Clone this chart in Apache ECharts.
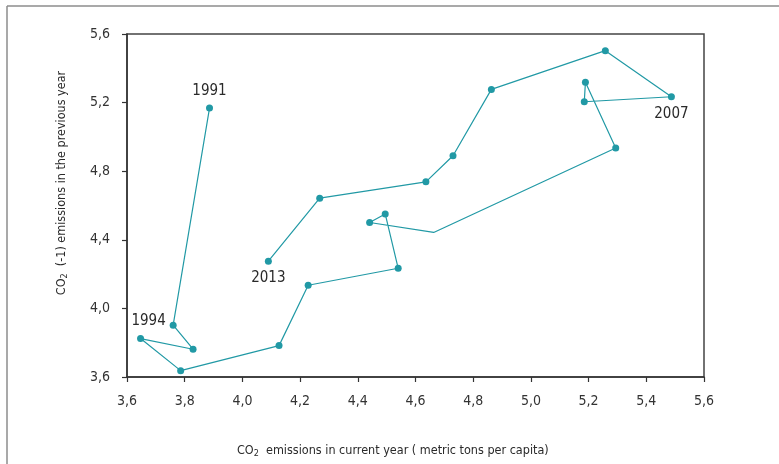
<!DOCTYPE html>
<html>
<head>
<meta charset="utf-8">
<style>
  html, body { margin: 0; padding: 0; background: #fff; }
  #chart { width: 779px; height: 464px; }
</style>
<script src="https://cdn.jsdelivr.net/npm/echarts@6/dist/echarts.min.js"></script>
</head>
<body>
<div id="chart"></div>
<script>
// CO2 emissions per capita: current year (x) against the previous year (y)
const currentYear = [3.886, 3.760, 3.829, 3.647, 3.786, 4.127, 4.228, 4.540, 4.495, 4.441,
                     4.663, 5.294, 5.189, 5.185, 5.487, 5.258, 4.863, 4.730, 4.636, 4.268, 4.090];
const previousYear = [5.168, 3.902, 3.762, 3.824, 3.637, 3.783, 4.135, 4.234, 4.551, 4.501,
                      4.443, 4.935, 5.318, 5.205, 5.234, 5.503, 5.277, 4.890, 4.738, 4.643, 4.275];
// vertices drawn without a dot
const noMarker = [10];
// year captions attached to vertices (index -> text, side)
const yearLabels = [
  { index: 0, text: '1991', side: 'top', offset: [0, 0] },
  { index: 3, text: '1994', side: 'top', offset: [8, 0] },
  { index: 14, text: '2007', side: 'bottom', offset: [0, 0] },
  { index: 20, text: '2013', side: 'bottom', offset: [0, 0] }
];
const xTicks = { min: 3.6, max: 5.6, step: 0.2 };
const yTicks = { min: 3.6, max: 5.6, step: 0.4 };

const FONT = "'Liberation Sans Narrow', 'DejaVu Sans Condensed', 'Roboto Condensed', sans-serif";
const TEAL = '#2199a5';

const seriesData = currentYear.map((x, i) => {
  const item = { value: [x, previousYear[i]] };
  if (noMarker.includes(i)) item.symbol = 'none';
  const lab = yearLabels.find(l => l.index === i);
  if (lab) {
    item.label = {
      show: true,
      formatter: lab.text,
      position: lab.side,
      distance: 6,
      offset: lab.offset,
      fontFamily: FONT,
      fontSize: 15,
      color: '#2a2a2a'
    };
  }
  return item;
});

const comma = v => v.toFixed(1).replace('.', ',');

const chart = echarts.init(document.getElementById('chart'), null, { renderer: 'canvas' });
chart.setOption({
  animation: false,
  backgroundColor: '#fff',
  grid: {
    left: 127, top: 34, width: 577, height: 343,
    show: true, borderColor: '#444', borderWidth: 1.5, backgroundColor: 'transparent'
  },
  xAxis: {
    type: 'value',
    min: xTicks.min, max: xTicks.max, interval: xTicks.step,
    axisLine: { show: true, lineStyle: { color: '#333', width: 1.5 } },
    axisTick: { show: true, inside: false, length: 5, lineStyle: { color: '#333', width: 1.2 } },
    axisLabel: { formatter: comma, margin: 17, fontFamily: FONT, fontSize: 14, color: '#333' },
    splitLine: { show: false }
  },
  yAxis: {
    type: 'value',
    min: yTicks.min, max: yTicks.max, interval: yTicks.step,
    axisLine: { show: true, lineStyle: { color: '#333', width: 1.5 } },
    axisTick: { show: true, inside: false, length: 5, lineStyle: { color: '#333', width: 1.2 } },
    axisLabel: { formatter: comma, margin: 17, fontFamily: FONT, fontSize: 14, color: '#333' },
    splitLine: { show: false }
  },
  series: [{
    type: 'line',
    data: seriesData,
    symbol: 'circle',
    symbolSize: 7,
    showAllSymbol: true,
    lineStyle: { color: TEAL, width: 1.2 },
    itemStyle: { color: TEAL },
    emphasis: { disabled: true }
  }],
  graphic: [
    // page frame
    { type: 'line', shape: { x1: 7, y1: 6, x2: 779, y2: 6 }, style: { stroke: '#8c8c8c', lineWidth: 1.5 } },
    { type: 'line', shape: { x1: 7, y1: 6, x2: 7, y2: 464 }, style: { stroke: '#8c8c8c', lineWidth: 1.5 } },
    // axis titles
    {
      type: 'text', left: 237, top: 444,
      style: {
        text: 'CO{s|2}  emissions in current year ( metric tons per capita)',
        fontFamily: FONT, fontSize: 12.5, fill: '#2a2a2a',
        rich: { s: { fontFamily: FONT, fontSize: 9, fill: '#2a2a2a', padding: [6, 0, 0, 0] } }
      }
    },
    {
      type: 'text', x: 62, y: 183, rotation: Math.PI / 2,
      style: {
        text: 'CO{s|2}  (-1) emissions in the previous year',
        fontFamily: FONT, fontSize: 12.5, fill: '#2a2a2a',
        align: 'center', verticalAlign: 'middle',
        rich: { s: { fontFamily: FONT, fontSize: 9, fill: '#2a2a2a', padding: [6, 0, 0, 0] } }
      }
    }
  ]
});
</script>
</body>
</html>
